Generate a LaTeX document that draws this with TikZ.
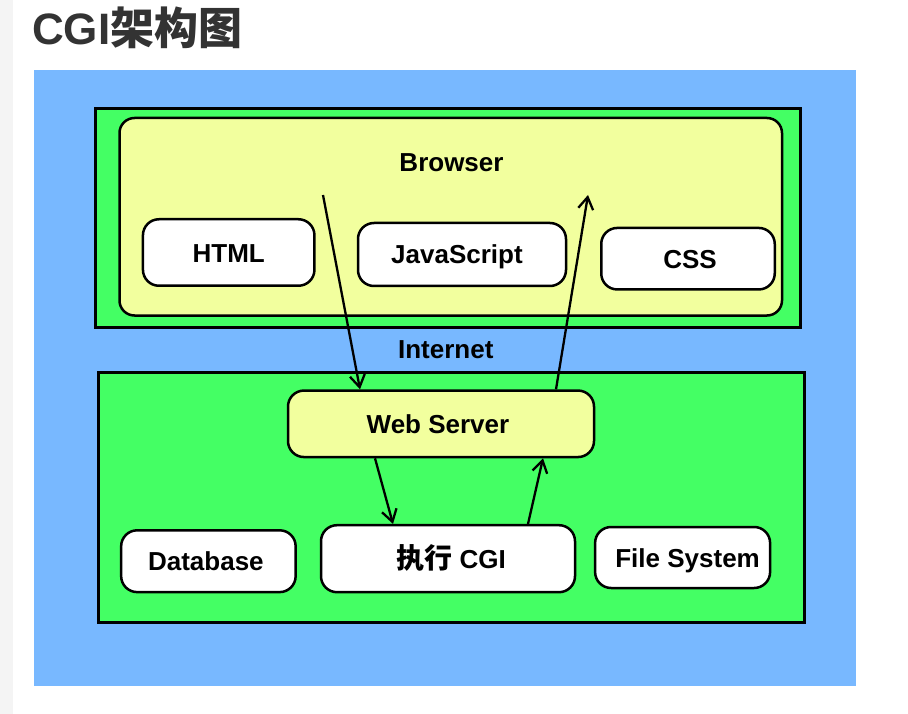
\documentclass[tikz,border=0pt]{standalone}
\usepackage{fontspec}
\setmainfont{Liberation Sans}
\newfontfamily\cjk{Noto Sans CJK SC}
\usepackage{tikz}
\usetikzlibrary{arrows.meta}
\definecolor{bgblue}{RGB}{120,184,255}
\definecolor{panelgreen}{RGB}{68,255,100}
\definecolor{paleyellow}{RGB}{242,255,158}
\definecolor{titlegray}{RGB}{51,51,51}
\definecolor{stripgray}{RGB}{244,244,244}

\begin{document}
\begin{tikzpicture}[x=1pt,y=-1pt,
  lbl/.style={font=\bfseries\fontsize{26}{30}\selectfont,text height=19pt,text depth=0pt,inner sep=0pt},
  panel/.style={draw,line width=3pt,fill=panelgreen},
  box/.style={lbl,draw,line width=2.5pt,fill=white,rounded corners=16pt},
  flow/.style={line width=2.3pt,-{Straight Barb[length=12pt,width=15pt]}}]
\newcommand{\boxh}{66.5pt}

\useasboundingbox (0,0) rectangle (908,714);
\fill[white] (0,0) rectangle (908,714);
\fill[stripgray] (0,0) rectangle (13,714);
\node[anchor=base west,inner sep=0pt,text=titlegray,font=\bfseries\fontsize{44}{50}\selectfont] (title) at (32,45) {CGI{\cjk 架构图}};
\fill[bgblue] (34,70) rectangle (856,686);

\node[panel,minimum width=705pt,minimum height=218pt] (client) at (447.5,218) {};
\node[box,fill=paleyellow,minimum width=662.5pt,minimum height=197.5pt,rounded corners=15pt] (browser) at (450.75,216.75) {};
\node[lbl] (browsertitle) at (451.5,162.2) {Browser};
\node[box,minimum width=171.5pt,minimum height=\boxh] (html) at (228.7,252.5) {HTML};
\node[box,minimum width=208pt,minimum height=63pt] (js) at (462,254.5) {JavaScript\kern10pt};
\node[box,minimum width=173.5pt,minimum height=61.5pt] (css) at (688,258.7) {\kern4pt CSS};

\node[lbl] (internet) at (445.8,348.8) {Internet};

\node[panel,minimum width=706.5pt,minimum height=250.5pt] (server) at (451.3,497.7) {};
\node[box,fill=paleyellow,minimum width=306pt,minimum height=\boxh] (webserver) at (441,423.8) {Web Server\kern6pt};
\node[box,minimum width=174.5pt,minimum height=61.8pt] (database) at (208.4,561.2) {Database\kern5pt};
\node[box,minimum width=254pt,minimum height=67pt] (cgi) at (448,558.7) {\kern6pt{\cjk\fontsize{28}{30}\selectfont 执行} CGI};
\node[box,minimum width=175pt,minimum height=61pt] (files) at (682.6,557.5) {\kern10pt File System};

\coordinate (reqfrom) at (323,195);
\coordinate (respto) at (588,195);
\draw[flow] (reqfrom) -- ([xshift=-81pt]webserver.north);
\draw[flow] ([xshift=115pt]webserver.north) -- (respto);
\draw[flow] ([xshift=-66pt]webserver.south) -- ([xshift=-55pt]cgi.north);
\draw[flow] ([xshift=80pt]cgi.north) -- ([xshift=102pt]webserver.south);
\end{tikzpicture}
\end{document}
